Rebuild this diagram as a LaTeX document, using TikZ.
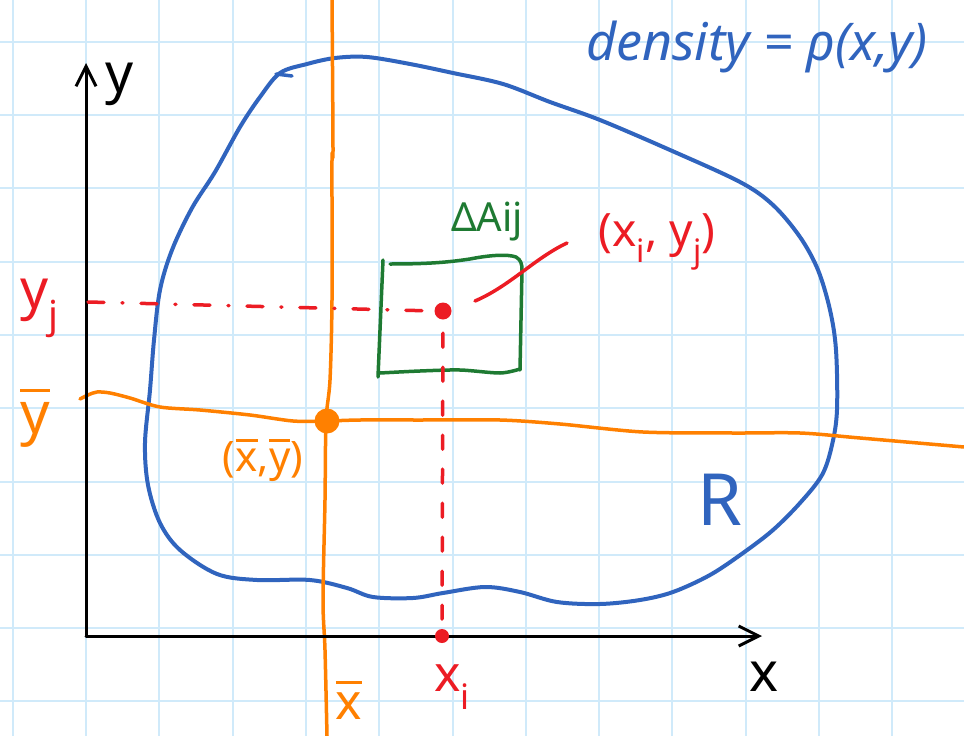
\documentclass[tikz,border=0pt]{standalone}
\usepackage{fontspec}
\setmainfont{Noto Sans}
\usetikzlibrary{arrows.meta}
\definecolor{gridc}{RGB}{208,234,250}
\definecolor{penblue}{RGB}{48,100,190}
\definecolor{penorange}{RGB}{255,128,0}
\definecolor{penred}{RGB}{236,28,36}
\definecolor{pengreen}{RGB}{30,122,50}
\newcommand{\fs}[1]{\fontsize{#1}{#1}\selectfont}
\newcommand{\ovl}[2]{\vbox{\hrule height 3pt\kern #2\hbox{#1}}}
\begin{document}
\begin{tikzpicture}[x=1pt,y=-1pt,line cap=round,line join=round,
  lbl/.style={inner sep=0pt,anchor=center},
  gridline/.style={gridc,line width=2pt},
  axisline/.style={black,line width=3pt,-{Straight Barb[length=20pt,width=20pt]}},
  bluepen/.style={penblue,line width=4pt},
  orangepen/.style={penorange,line width=3.5pt},
  redpen/.style={penred,line width=3.5pt},
  greenpen/.style={pengreen,line width=3.5pt}]
\fill[white] (0,0) rectangle (964,736);
\useasboundingbox (0,0) rectangle (964,736);
% grid
\foreach \i in {0,...,13} \draw[gridline] ({12.7+73.3*\i},0) -- ({12.7+73.3*\i},736);
\foreach \j in {0,...,9} \draw[gridline] (0,{41.7+73.3*\j}) -- (964,{41.7+73.3*\j});
% region R
\draw[bluepen] plot[smooth cycle,tension=0.55] coordinates {
 (280,73) (307,64) (335,58) (367,57) (410,64) (453,73)
 (503,84) (550,102) (600,120) (670,150)
 (740,182) (773,205) (800,237) (818,270) (830,310) (836,350)
 (837,410) (832,445) (822,475) (800,503) (773,530) (743,553) (710,575)
 (673,592) (640,600) (600,604) (557,602) (520,592) (485,587) (443,593)
 (413,598) (373,597) (347,588) (310,580) (257,580) (217,574)
 (180,550) (160,523) (148,485) (145,443) (150,390) (154,340)
 (160,290) (172,250) (192,208) (215,172) (240,127) (260,97)};
\draw[penblue,line width=3.5pt] (276,74) -- (292,76);
% green box
\draw[greenpen] (383,260) -- (378,377);
\draw[greenpen] plot[smooth,tension=0.5] coordinates {(380,373) (420,371) (460,370) (500,373) (520,369)};
\draw[greenpen] (390,264) .. controls (430,264) and (450,262) .. (470,259)
  .. controls (490,255) and (508,254) .. (516,257) .. controls (521,260) and (522,264) .. (522,270) -- (520,370);
% orange lines
\draw[orangepen] plot[smooth,tension=0.5] coordinates {
 (332,0) (333,150) (332,160) (332,300) (330,380) (326,421) (325,500) (323,600) (325,650) (327,736)};
\draw[orangepen] plot[smooth,tension=0.5] coordinates {
 (80,399) (88,395) (97,392) (110,393) (130,398) (160,407) (200,410) (250,415) (293,421)
 (326,421) (360,420) (420,420) (500,420) (560,424) (643,432) (733,433) (800,433) (860,438) (964,447)};
\node[circle,fill=penorange,inner sep=0pt,minimum size=25pt] (cm) at (327,421) {};
% axes
\coordinate (O) at (86,636);
\coordinate (ytip) at (86,63);
\coordinate (xtip) at (762,636);
\draw[axisline] (O) -- (ytip);
\draw[axisline] (O) -- (xtip);
% red point and projections
\node[circle,fill=penred,inner sep=0pt,minimum size=17pt] (pij) at (443,311) {};
\node[circle,fill=penred,inner sep=0pt,minimum size=14pt] (xidot) at (442,636) {};
\coordinate (yjstart) at (88,302);
\draw[redpen,dash pattern=on 16pt off 18pt on 1pt off 18pt] (yjstart) -- (pij.west);
\draw[redpen,dash pattern=on 14pt off 20pt,dash phase=20.5pt] (pij.south) -- (xidot.north);
\coordinate (cstart) at (475,301);
\coordinate (cend) at (567,243);
\draw[redpen] (cstart) .. controls (510,286) and (535,258) .. (cend);
% labels
\node[lbl,font=\fs{52}\itshape,text=penblue] (dens) at (757,47) {density = ρ(x,y)};
\node[lbl,font=\fs{55}] (ylab) at (120,84) {y};
\node[lbl,font=\fs{55}] (xlab) at (764,677) {x};
\node[lbl,font=\fs{55},text=penred] (yjlab) at (40,308) {y\textsubscript{j}};
\node[lbl,font=\fs{58},text=penorange] (ybarlab) at (35,418) {\ovl{y}{10pt}};
\node[lbl,font=\fs{42},text=penorange] (cmlab) at (263,460) {(\ovl{x}{7pt},\ovl{y}{7pt})};
\node[lbl,font=\fs{50},text=penorange] (xbarlab) at (349,700) {\ovl{x}{9pt}};
\node[lbl,font=\fs{50},text=penred] (xilab) at (452,687) {x\textsubscript{i}};
\node[lbl,font=\fs{46},text=penred] (pijlab) at (657,242) {(x\textsubscript{i}, y\textsubscript{j})};
\node[lbl,font=\fs{40},text=pengreen] (dalab) at (487,222) {ΔAij};
\node[lbl,font=\fs{72},text=penblue] (Rlab) at (720,500) {R};
\end{tikzpicture}
\end{document}
